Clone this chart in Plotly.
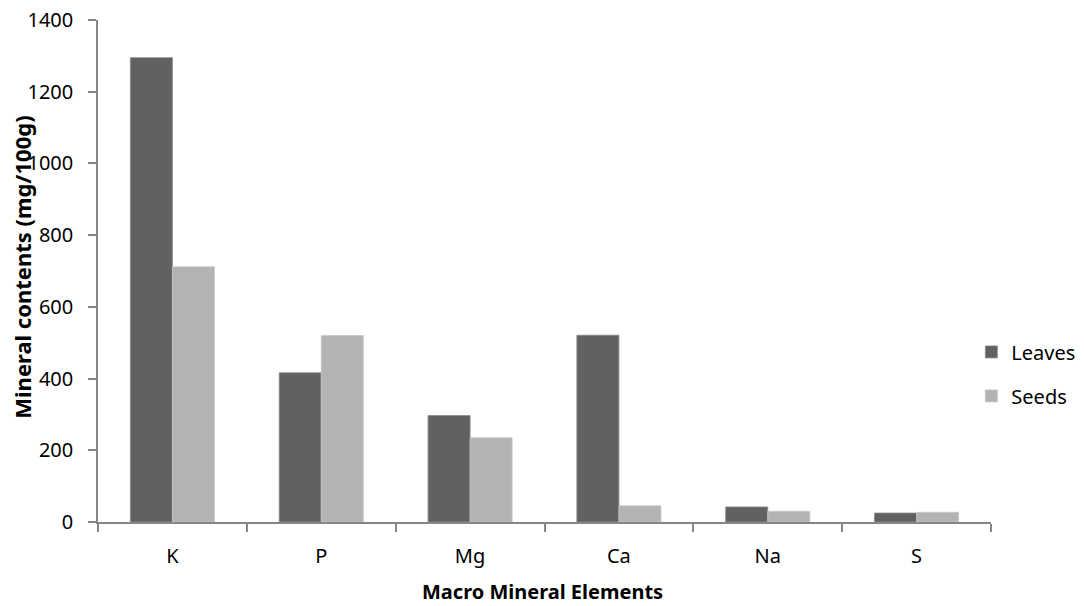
import plotly.graph_objects as go

categories = ["K", "P", "Mg", "Ca", "Na", "S"]
leaves = [1295, 416, 297, 521, 42, 25]
seeds = [712, 520, 235, 45, 30, 27]
y_ticks = [0, 200, 400, 600, 800, 1000, 1200, 1400]

FONT = "Noto Sans"

fig = go.Figure()
fig.add_trace(go.Bar(name="Leaves", x=categories, y=leaves, legendgroup="a",
                     marker=dict(color="#616161", line=dict(color="#8a8a8a", width=0.8))))
fig.add_trace(go.Bar(name="Seeds", x=categories, y=seeds, legendgroup="b",
                     marker=dict(color="#b3b3b3", line=dict(color="#c8c8c8", width=0.8))))

fig.update_layout(
    width=1084, height=606,
    margin=dict(l=98, r=93, t=20, b=83.5, autoexpand=False),
    paper_bgcolor="white", plot_bgcolor="white",
    barmode="group", bargap=0.435, bargroupgap=0,
    font=dict(family=FONT, size=20, color="black"),
    showlegend=True,
    legend=dict(x=0.978, xanchor="left", y=0.295, yanchor="middle",
                font=dict(family=FONT, size=20),
                tracegroupgap=15, bgcolor="rgba(0,0,0,0)"),
    xaxis=dict(
        showline=True, linecolor="#868686", linewidth=1.5, automargin=False,
        ticks="outside", tickson="boundaries", ticklen=8, tickcolor="#868686", tickwidth=1.5,
        ticklabelstandoff=15, ticklabeloverflow="allow",
        tickfont=dict(family=FONT, size=20), showgrid=False, zeroline=False,
    ),
    yaxis=dict(
        range=[0, 1400], tickvals=y_ticks, automargin=False,
        showline=True, linecolor="#868686", linewidth=1.5,
        ticks="outside", ticklen=8, tickcolor="#868686", tickwidth=1.5,
        ticklabelstandoff=11, ticklabeloverflow="allow",
        tickfont=dict(family=FONT, size=20), showgrid=False, zeroline=False,
    ),
    annotations=[
        dict(text="<b>Macro Mineral Elements</b>", xref="paper", yref="paper",
             x=0.4978, y=-0.1383, xanchor="center", yanchor="middle", showarrow=False,
             font=dict(family=FONT, size=20)),
        dict(text="<b>Mineral contents (mg/100g)</b>", xref="paper", yref="paper",
             x=-0.0851, y=0.5065, xanchor="center", yanchor="middle", showarrow=False,
             textangle=-90, font=dict(family=FONT, size=22)),
    ],
)

fig.write_html("out.html", config={"displayModeBar": False},
               post_script="document.body.style.margin='0';")
